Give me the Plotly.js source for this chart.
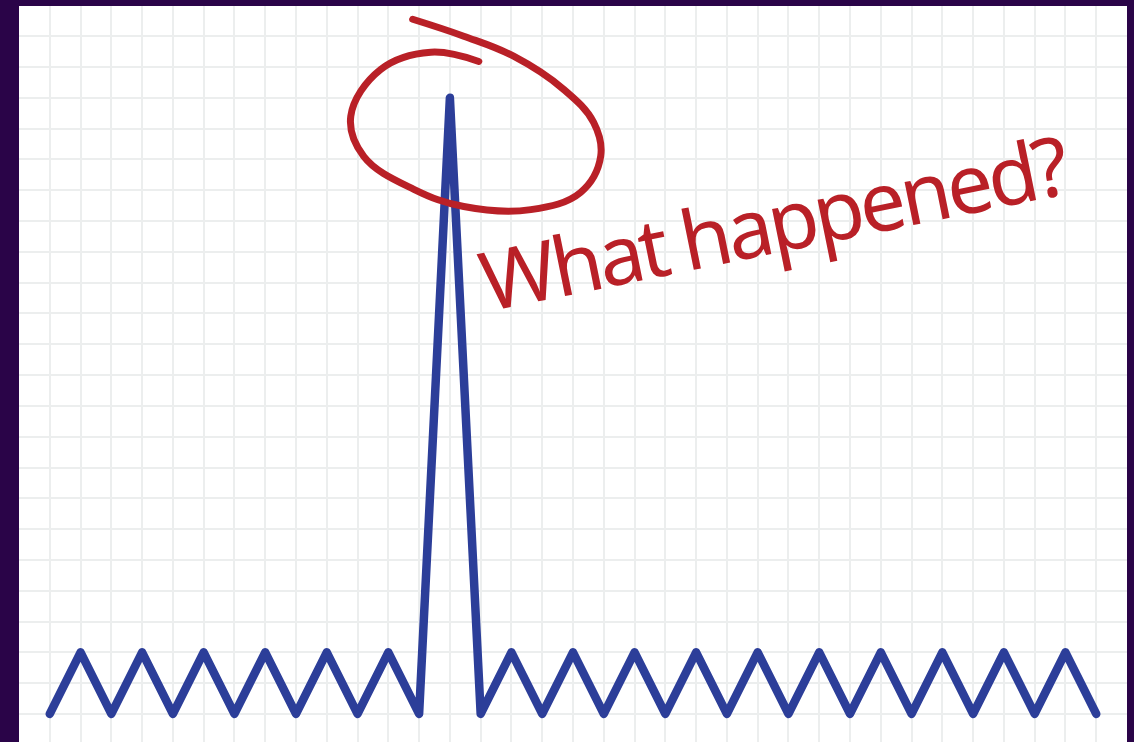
<!DOCTYPE html>
<html>
<head>
<meta charset="utf-8">
<script src="https://cdn.plot.ly/plotly-3.0.1.min.js"></script>
<style>
  html, body { margin: 0; padding: 0; background: #2a0448; }
  #chart { width: 1134px; height: 742px; }
  .scatterlayer path.js-line { stroke-linejoin: round; stroke-linecap: round; }
  .annotation-text { letter-spacing: -4px; }
</style>
</head>
<body>
<div id="chart"></div>
<script>
// zigzag signal with one spike
const xs = [];
for (let i = 0; i <= 34; i++) xs.push(i);
const values = [
  0, 2, 0, 2, 0, 2, 0, 2, 0, 2, 0, 2, 0, 20, 0, 2, 0, 2, 0, 2, 0, 2, 0, 2, 0, 2, 0, 2, 0, 2, 0, 2, 0, 2, 0
];

// hand-drawn loop round the spike (data units)
const loopX = [13.94, 12.38, 10.75, 9.78, 10.2, 11.83, 13.45, 15.63, 17.25, 17.9, 17.67, 16.7, 15.07, 13.45, 11.79];
const loopY = [21.18, 21.48, 20.92, 19.4, 18.1, 17.03, 16.47, 16.37, 16.93, 18.1, 19.2, 20.27, 21.35, 22.0, 22.55];

const noteText = "What happened?";
const noteX = 23.5;
const noteY = 16.0;

const BLUE = "#2c3e99";
const RED = "#b92027";

const traces = [
  {
    type: "scatter",
    mode: "lines",
    x: xs,
    y: values,
    line: { color: BLUE, width: 8.5 },
    hoverinfo: "skip",
  },
  {
    type: "scatter",
    mode: "lines",
    x: loopX,
    y: loopY,
    line: { color: RED, width: 7, shape: "spline", smoothing: 1.1 },
    hoverinfo: "skip",
  },
];

const axisBase = {
  showgrid: true,
  gridcolor: "#eceeee",
  gridwidth: 2,
  dtick: 1,
  zeroline: false,
  showticklabels: false,
  ticks: "",
  showline: false,
  fixedrange: true,
};

const layout = {
  width: 1134,
  height: 742,
  paper_bgcolor: "#2a0448",
  plot_bgcolor: "#ffffff",
  showlegend: false,
  margin: { l: 19, r: 7, t: 6, b: 0 },
  xaxis: { ...axisBase, range: [-1, 35], tick0: 0 },
  yaxis: { ...axisBase, range: [-0.91, 22.98], tick0: 0 },
  annotations: [
    {
      x: noteX,
      y: noteY,
      xref: "x",
      yref: "y",
      text: noteText,
      showarrow: false,
      textangle: -11.5,
      font: { family: "Noto Sans", size: 82, color: RED },
    },
  ],
};

Plotly.newPlot("chart", traces, layout, { displayModeBar: false, staticPlot: true });
</script>
</body>
</html>
